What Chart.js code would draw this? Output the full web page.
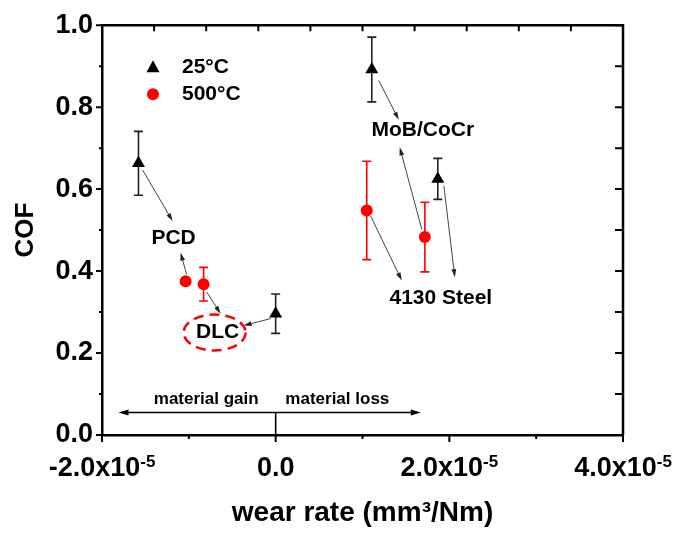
<!DOCTYPE html>
<html>
<head>
<meta charset="utf-8">
<script src="https://cdn.jsdelivr.net/npm/chart.js@4.4.1/dist/chart.umd.min.js"></script>
<style>
  html, body { margin: 0; padding: 0; background: #fff; }
  #wrap { width: 680px; height: 533px; }
</style>
</head>
<body>
<div id="wrap"><canvas id="cofChart"></canvas></div>
<script>
// COF vs wear rate, 25°C runs
const rtX = [-1.58e-5, 0.0, 1.107e-5, 1.867e-5];
const rtY = [0.663, 0.296, 0.892, 0.625];
const rtErr = [0.078, 0.048, 0.079, 0.05];

// COF vs wear rate, 500°C runs
const htX = [-1.037e-5, -0.83e-5, 1.049e-5, 1.718e-5];
const htY = [0.375, 0.368, 0.548, 0.483];
const htErr = [0.008, 0.041, 0.12, 0.085];

// x tick labels: mantissa + exponent
const xTicks = [-2e-5, 0, 2e-5, 4e-5];
const xTickBase = ['-2.0x10', '0.0', '2.0x10', '4.0x10'];
const xTickExp = ['-5', '', '-5', '-5'];

// counterface names
const labelText = ['PCD', 'DLC', 'MoB/CoCr', '4130 Steel'];
const labelX = [-1.176e-5, -0.669e-5, 1.695e-5, 1.902e-5];
const labelY = [0.481, 0.25, 0.743, 0.334];

// pointers from points to their counterface name
const arrowFromX = [-1.533e-5, -1.026e-5, -0.795e-5, -0.058e-5, 1.187e-5, 1.683e-5, 1.095e-5, 1.937e-5];
const arrowFromY = [0.647, 0.392, 0.349, 0.284, 0.865, 0.502, 0.534, 0.608];
const arrowToX = [-1.187e-5, -1.095e-5, -0.634e-5, -0.369e-5, 1.418e-5, 1.429e-5, 1.452e-5, 2.063e-5];
const arrowToY = [0.522, 0.445, 0.296, 0.267, 0.769, 0.702, 0.377, 0.385];

const FONT = "'Liberation Sans', Arial, sans-serif";

function drawArrow(ctx, x1, y1, x2, y2, head) {
  const a = Math.atan2(y2 - y1, x2 - x1);
  const c = Math.cos(a), s = Math.sin(a);
  ctx.beginPath();
  ctx.moveTo(x1, y1);
  ctx.lineTo(x2 - head * 0.6 * c, y2 - head * 0.6 * s);
  ctx.stroke();
  ctx.beginPath();
  ctx.moveTo(x2, y2);
  ctx.lineTo(x2 - head * c + head * 0.3 * s, y2 - head * s - head * 0.3 * c);
  ctx.lineTo(x2 - head * c - head * 0.3 * s, y2 - head * s + head * 0.3 * c);
  ctx.closePath();
  ctx.fill();
}

const errorBars = {
  id: 'errorBars',
  beforeDatasetsDraw(chart) {
    const ctx = chart.ctx, y = chart.scales.y;
    chart.data.datasets.forEach((ds, i) => {
      const meta = chart.getDatasetMeta(i);
      ctx.save();
      ctx.strokeStyle = ds.errorColor;
      ctx.lineWidth = 1.6;
      meta.data.forEach((pt, j) => {
        const v = ds.data[j].y, e = ds.errors[j];
        const top = y.getPixelForValue(v + e), bot = y.getPixelForValue(v - e);
        ctx.beginPath();
        ctx.moveTo(pt.x, top); ctx.lineTo(pt.x, bot);
        ctx.moveTo(pt.x - 4.5, top); ctx.lineTo(pt.x + 4.5, top);
        ctx.moveTo(pt.x - 4.5, bot); ctx.lineTo(pt.x + 4.5, bot);
        ctx.stroke();
      });
      ctx.restore();
    });
  }
};

const decorations = {
  id: 'decorations',
  afterDraw(chart) {
    const ctx = chart.ctx, x = chart.scales.x, y = chart.scales.y;
    const area = chart.chartArea;
    ctx.save();

    // top and right frame
    ctx.strokeStyle = '#000';
    ctx.lineWidth = 2.5;
    ctx.beginPath();
    ctx.moveTo(area.left, area.top);
    ctx.lineTo(area.right, area.top);
    ctx.lineTo(area.right, area.bottom);
    ctx.stroke();

    // tick marks
    ctx.lineWidth = 2;
    ctx.beginPath();
    for (let k = 0; k <= 6; k++) {
      const px = x.getPixelForValue(x.min + k * 1e-5);
      const len = k % 2 === 0 ? 7 : 4;
      ctx.moveTo(px, area.bottom); ctx.lineTo(px, area.bottom + len);
    }
    for (let k = 0; k <= 10; k++) {
      const py = y.getPixelForValue(k / 10);
      const len = k % 2 === 0 ? 6 : 3;
      ctx.moveTo(area.left, py); ctx.lineTo(area.left - len, py);
      ctx.moveTo(area.right, py); ctx.lineTo(area.right - 8, py);
      const px = x.getPixelForValue(x.min + k * (x.max - x.min) / 10);
      ctx.moveTo(px, area.top); ctx.lineTo(px, area.top + 6);
    }
    ctx.stroke();

    // x tick labels with superscript exponent
    ctx.fillStyle = '#000';
    ctx.textBaseline = 'alphabetic';
    ctx.textAlign = 'left';
    xTicks.forEach((v, i) => {
      ctx.font = 'bold 27px ' + FONT;
      const wb = ctx.measureText(xTickBase[i]).width;
      ctx.font = 'bold 17px ' + FONT;
      const we = xTickExp[i] ? ctx.measureText(xTickExp[i]).width : 0;
      const x0 = x.getPixelForValue(v) - (wb + we) / 2;
      ctx.font = 'bold 27px ' + FONT;
      ctx.fillText(xTickBase[i], x0, 476);
      ctx.font = 'bold 17px ' + FONT;
      if (xTickExp[i]) ctx.fillText(xTickExp[i], x0 + wb, 467);
    });

    // pointers
    ctx.strokeStyle = '#444';
    ctx.fillStyle = '#222';
    ctx.lineWidth = 1;
    arrowFromX.forEach((v, i) => {
      drawArrow(ctx, x.getPixelForValue(v), y.getPixelForValue(arrowFromY[i]),
        x.getPixelForValue(arrowToX[i]), y.getPixelForValue(arrowToY[i]), 8);
    });

    // counterface names
    ctx.fillStyle = '#000';
    ctx.font = 'bold 21px ' + FONT;
    ctx.textAlign = 'center';
    ctx.textBaseline = 'middle';
    labelText.forEach((t, i) => {
      ctx.fillText(t, x.getPixelForValue(labelX[i]), y.getPixelForValue(labelY[i]));
    });

    // dashed ring round DLC
    ctx.strokeStyle = '#f00';
    ctx.lineWidth = 2.5;
    ctx.setLineDash([10, 6]);
    ctx.beginPath();
    ctx.ellipse(x.getPixelForValue(-0.703e-5), y.getPixelForValue(0.25), 31, 18, 0, 0, Math.PI * 2);
    ctx.stroke();
    ctx.setLineDash([]);

    // material gain / loss bar
    ctx.strokeStyle = '#000';
    ctx.fillStyle = '#000';
    ctx.lineWidth = 1.6;
    const yBar = y.getPixelForValue(0.055);
    const x0 = x.getPixelForValue(0);
    drawArrow(ctx, x0, yBar, x.getPixelForValue(-1.81e-5), yBar, 10);
    drawArrow(ctx, x0, yBar, x.getPixelForValue(1.671e-5), yBar, 10);
    ctx.beginPath();
    ctx.moveTo(x0, yBar); ctx.lineTo(x0, area.bottom);
    ctx.stroke();
    ctx.font = 'bold 17px ' + FONT;
    ctx.textBaseline = 'alphabetic';
    ctx.fillText('material gain', x.getPixelForValue(-0.8e-5), yBar - 8);
    ctx.fillText('material loss', x.getPixelForValue(0.71e-5), yBar - 8);

    // legend
    const lx = area.left + 51;
    ctx.fillStyle = '#000';
    ctx.beginPath();
    ctx.moveTo(lx, area.top + 35);
    ctx.lineTo(lx + 6.5, area.top + 47);
    ctx.lineTo(lx - 6.5, area.top + 47);
    ctx.closePath();
    ctx.fill();
    ctx.fillStyle = '#f00';
    ctx.beginPath();
    ctx.arc(lx, area.top + 69, 6, 0, Math.PI * 2);
    ctx.fill();
    ctx.fillStyle = '#000';
    ctx.font = 'bold 21px ' + FONT;
    ctx.textAlign = 'left';
    ctx.textBaseline = 'middle';
    ctx.fillText('25°C', lx + 29, area.top + 42);
    ctx.fillText('500°C', lx + 29, area.top + 69);

    ctx.restore();
  }
};

const ctx = document.getElementById('cofChart').getContext('2d');
const cofChart = new Chart(ctx, {
  type: 'scatter',
  data: {
    datasets: [{
      label: '25°C',
      data: rtX.map((v, i) => ({ x: v, y: rtY[i] })),
      errors: rtErr,
      errorColor: '#222',
      pointStyle: 'triangle',
      pointRadius: 7.5,
      backgroundColor: '#000',
      borderColor: '#000',
      borderWidth: 0
    }, {
      label: '500°C',
      data: htX.map((v, i) => ({ x: v, y: htY[i] })),
      errors: htErr,
      errorColor: '#f00',
      pointStyle: 'circle',
      pointRadius: 6,
      backgroundColor: '#f00',
      borderColor: '#f00',
      borderWidth: 0
    }]
  },
  options: {
    responsive: true,
    maintainAspectRatio: false,
    animation: false,
    layout: { padding: { top: 19, right: 57, left: 0, bottom: 0 } },
    plugins: {
      legend: { display: false },
      tooltip: { enabled: false }
    },
    scales: {
      x: {
        type: 'linear',
        min: -2e-5,
        max: 4e-5,
        grid: { display: false, drawTicks: false },
        border: { display: true, color: '#000', width: 2.5 },
        ticks: { display: false, stepSize: 2e-5 },
        title: {
          display: true,
          text: 'wear rate (mm³/Nm)',
          color: '#000',
          font: { family: FONT, weight: 'bold', size: 28 },
          padding: { top: 0, bottom: 3 }
        },
        afterFit(scale) { scale.height = 98; }
      },
      y: {
        min: 0,
        max: 1,
        grid: { display: false, drawTicks: false },
        border: { display: true, color: '#000', width: 2.5 },
        ticks: {
          stepSize: 0.2,
          padding: 9,
          color: '#000',
          font: { family: FONT, weight: 'bold', size: 27 },
          callback: v => v.toFixed(1)
        },
        title: {
          display: true,
          text: 'COF',
          color: '#000',
          font: { family: FONT, weight: 'bold', size: 26 },
          padding: { top: 10, bottom: 0 }
        },
        afterFit(scale) { scale.width = 102; }
      }
    }
  },
  plugins: [errorBars, decorations]
});
</script>
</body>
</html>
